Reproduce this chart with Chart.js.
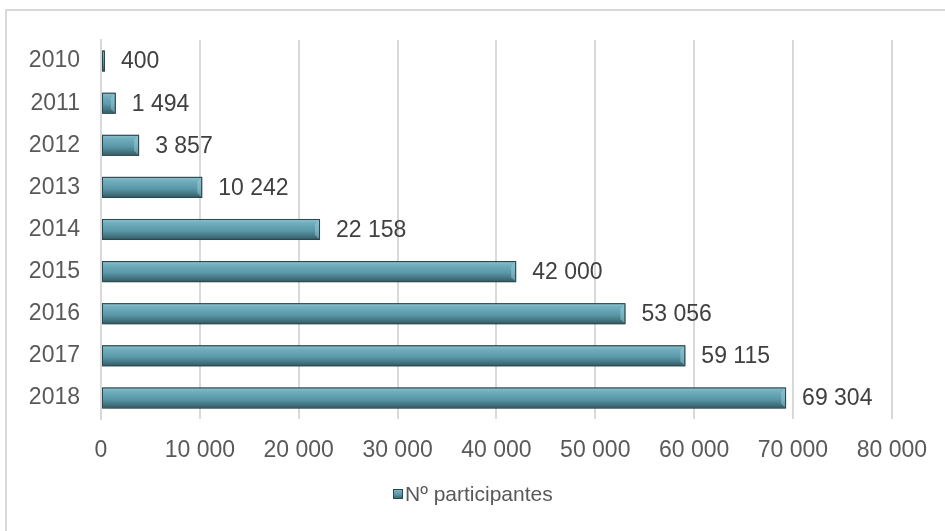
<!DOCTYPE html>
<html>
<head>
<meta charset="utf-8">
<script src="https://cdn.jsdelivr.net/npm/chart.js@4.4.1/dist/chart.umd.min.js"></script>
<style>
  html, body { margin: 0; padding: 0; background: #fff; overflow: hidden; }
  #frame {
    position: absolute; left: 5px; top: 9px; width: 1000px; height: 600px;
    border-top: 2px solid #d9d9d9; border-left: 2px solid #d9d9d9;
  }
  #wrap { position: absolute; left: 0; top: 0; width: 945px; height: 531px; }
</style>
</head>
<body>
<div id="frame"></div>
<div id="wrap"><canvas id="chart" width="945" height="531"></canvas></div>
<script>
const years = ['2010', '2011', '2012', '2013', '2014', '2015', '2016', '2017', '2018'];
const participants = [400, 1494, 3857, 10242, 22158, 42000, 53056, 59115, 69304];
const xTicks = [0, 10000, 20000, 30000, 40000, 50000, 60000, 70000, 80000];
const seriesName = 'Nº participantes';

const FONT = '"Liberation Sans", Arial, sans-serif';
const fmt = (v) => String(v).replace(/\B(?=(\d{3})+(?!\d))/g, ' ');

function barGradient(c, top, h) {
  const g = c.createLinearGradient(0, top, 0, top + h);
  g.addColorStop(0, '#8ec3d0');
  g.addColorStop(0.2, '#70adbd');
  g.addColorStop(0.55, '#5a99a9');
  g.addColorStop(0.85, '#416f7b');
  g.addColorStop(1, '#2e525b');
  return g;
}

// soft drop shadow under the bars, then a bevelled gradient over each one
const barLook = {
  id: 'barLook',
  beforeDatasetsDraw(chart) {
    const c = chart.ctx;
    c.save();
    c.shadowColor = 'rgba(0,0,0,0.35)';
    c.shadowBlur = 7;
    c.shadowOffsetX = 2;
    c.shadowOffsetY = 4;
  },
  afterDatasetsDraw(chart) {
    const c = chart.ctx;
    c.restore();
    const meta = chart.getDatasetMeta(0);
    meta.data.forEach((bar, i) => {
      const x0 = bar.base, x1 = bar.x;
      const top = bar.y - bar.height / 2, h = bar.height;
      c.save();
      c.fillStyle = barGradient(c, top, h);
      c.fillRect(x0 + 1, top + 1, Math.max(0, x1 - x0 - 2), h - 2);
      // lighter bevel at the bar end
      if (x1 - x0 > 8) {
        c.fillStyle = 'rgba(160,210,222,0.45)';
        c.beginPath();
        c.moveTo(x1 - 1, top + 1);
        c.lineTo(x1 - 5, top + 5);
        c.lineTo(x1 - 5, top + h - 5);
        c.lineTo(x1 - 1, top + h - 1);
        c.closePath();
        c.fill();
      }
      c.strokeStyle = '#2a4850';
      c.lineWidth = 1;
      c.strokeRect(x0 + 0.5, top + 0.5, x1 - x0 - 1, h - 1);

      // value label
      c.fillStyle = '#404040';
      c.font = '23px ' + FONT;
      c.textAlign = 'left';
      c.textBaseline = 'middle';
      c.fillText(fmt(participants[i]), x1 + 16, bar.y + 1);
      c.restore();
    });
  }
};

// series key, centred under the whole box
const seriesKey = {
  id: 'seriesKey',
  afterDraw(chart) {
    const c = chart.ctx;
    c.save();
    c.font = '21px ' + FONT;
    const tw = c.measureText(seriesName).width;
    const box = 10, gap = 2;
    const total = box + gap + tw;
    const x = Math.round(chart.width / 2 - total / 2);
    const y = 494;
    c.fillStyle = barGradient(c, y - box / 2, box);
    c.fillRect(x, y - box / 2, box, box);
    c.strokeStyle = '#2a4850';
    c.lineWidth = 1;
    c.strokeRect(x + 0.5, y - box / 2 + 0.5, box - 1, box - 1);
    c.fillStyle = '#595959';
    c.textAlign = 'left';
    c.textBaseline = 'middle';
    c.fillText(seriesName, x + box + gap, y + 1);
    c.restore();
  }
};

new Chart(document.getElementById('chart'), {
  type: 'bar',
  data: {
    labels: years,
    datasets: [{
      label: seriesName,
      data: participants,
      backgroundColor: '#56949f',
      borderColor: '#2a4850',
      borderWidth: 1,
      borderSkipped: false,
      categoryPercentage: 1,
      barPercentage: 0.5
    }]
  },
  options: {
    indexAxis: 'y',
    responsive: false,
    animation: false,
    layout: { padding: { top: 40, right: 53, left: 0, bottom: 57 } },
    plugins: {
      tooltip: { enabled: false },
      legend: { display: false }
    },
    scales: {
      x: {
        min: 0,
        max: 80000,
        afterBuildTicks: (s) => { s.ticks = xTicks.map(v => ({ value: v })); },
        afterFit: (s) => { s.height = 55; },
        ticks: {
          color: '#595959',
          font: { family: FONT, size: 23 },
          padding: 18,
          callback: (v) => fmt(v)
        },
        grid: { color: '#d9d9d9', lineWidth: 2, drawTicks: false },
        border: { display: false }
      },
      y: {
        afterFit: (s) => { s.width = 101; },
        ticks: {
          color: '#595959',
          font: { family: FONT, size: 23 },
          padding: 21
        },
        grid: { display: false, drawTicks: false },
        border: { color: '#d9d9d9', width: 2 }
      }
    }
  },
  plugins: [barLook, seriesKey]
});
</script>
</body>
</html>
